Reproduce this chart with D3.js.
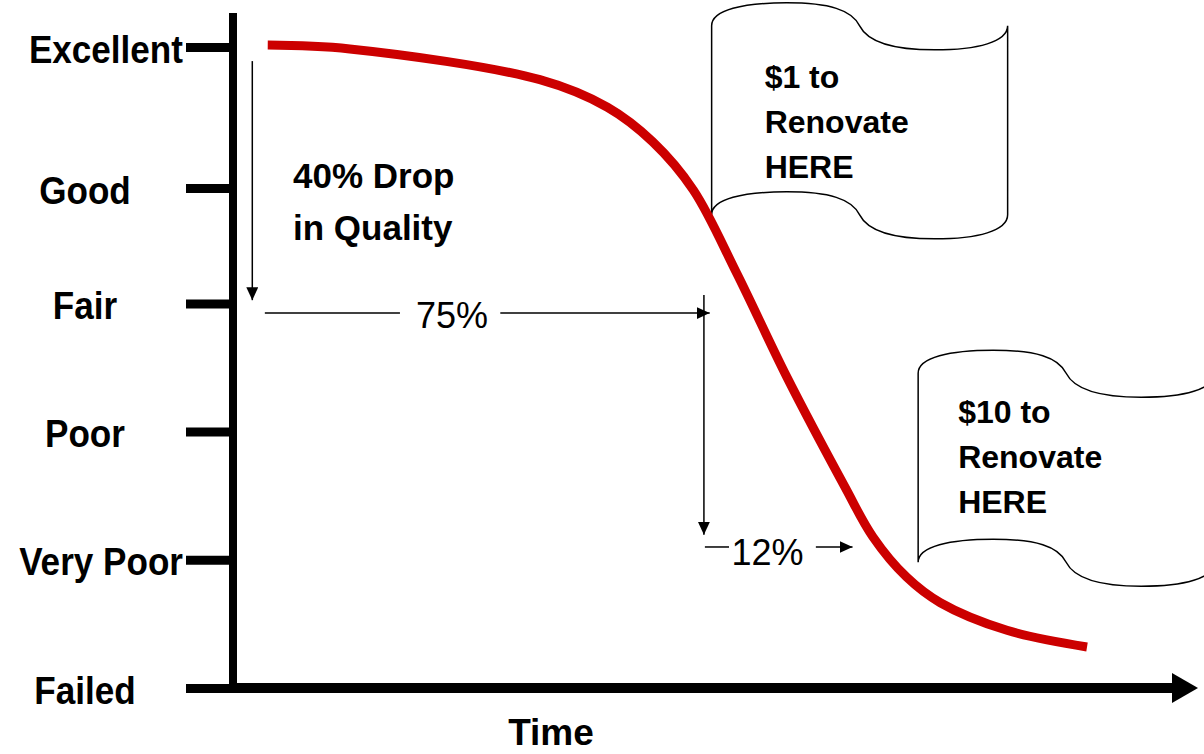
<!DOCTYPE html>
<html>
<head>
<meta charset="utf-8">
<script src="https://cdn.jsdelivr.net/npm/d3@7"></script>
<style>
  body { margin: 0; background: #fff; overflow: hidden; }
  text { font-family: "Liberation Sans", Arial, sans-serif; }
</style>
</head>
<body>
<div class="canvas"></div>
<script>
// condition rating scale (y) and the deterioration curve over time (x)
const qualityLabels = ['Excellent', 'Good', 'Fair', 'Poor', 'Very Poor', 'Failed'];
const qualityValues = [100, 78, 60, 40, 20, 0];

const timeValues = [3.6, 12.1, 31.8, 38.8, 43.5, 47.7, 52.2, 57.4, 63.4, 66.3, 69.8, 73.3, 80.2, 88.5];
const conditionValues = [100.3, 99.7, 94.9, 90.6, 85.2, 77.7, 64.7, 48.5, 31.4, 23.6, 17.3, 13.3, 9.0, 6.4];

const flagTexts = [['$1 to', 'Renovate', 'HERE'], ['$10 to', 'Renovate', 'HERE']];

const width = 1204;
const height = 754;

const svg = d3.select('.canvas')
    .append('svg')
    .attr('width', width)
    .attr('height', height);

const x = d3.scaleLinear().domain([0, 100]).range([233, 1198]);
const y = d3.scaleLinear().domain([0, 100]).range([688, 47]);

// arrow marker
svg.append('defs').append('marker')
    .attr('id', 'head')
    .attr('viewBox', '0 -6 13 12')
    .attr('refX', 13)
    .attr('refY', 0)
    .attr('markerWidth', 13)
    .attr('markerHeight', 12)
    .attr('markerUnits', 'userSpaceOnUse')
    .attr('orient', 'auto')
    .append('path')
    .attr('d', 'M0,-6L13,0L0,6Z')
    .attr('fill', '#000');

// flags (drawn first so the red curve sits on top)
const flagH = 189;
const flagPath = `M0,0 C0,-16 32,-23 75,-23 C118,-23 140,-16 148,0 C156,16 180,24 223,24 C266,24 296,16 296,0
  L296,${flagH} C296,${flagH + 16} 266,${flagH + 24} 223,${flagH + 24} C180,${flagH + 24} 156,${flagH + 16} 148,${flagH}
  C140,${flagH - 16} 118,${flagH - 23} 75,${flagH - 23} C32,${flagH - 23} 0,${flagH - 16} 0,${flagH} Z`;

const flags = [
    { t: 49.6, q: 103.3, tx: 53, ty: 62 },
    { t: 71.0, q: 49.1, tx: 40, ty: 50 }
];

flags.forEach((f, i) => {
    const g = svg.append('g')
        .attr('transform', `translate(${x(f.t)}, ${y(f.q)})`);
    g.append('path')
        .attr('d', flagPath)
        .attr('fill', '#fff')
        .attr('stroke', '#000')
        .attr('stroke-width', 1.5);
    g.selectAll('text')
        .data(flagTexts[i])
        .enter()
        .append('text')
        .attr('x', f.tx)
        .attr('y', (d, j) => f.ty + j * 45)
        .attr('font-size', 32)
        .attr('font-weight', 'bold')
        .text(d => d);
});

// y axis with category ticks
const yAxis = d3.axisLeft(y)
    .tickValues(qualityValues)
    .tickFormat((d, i) => qualityLabels[i])
    .tickSize(47)
    .tickSizeOuter(0)
    .tickPadding(0);

const yAxisGroup = svg.append('g')
    .attr('transform', 'translate(233, 0)')
    .call(yAxis);

yAxisGroup.select('.domain').remove();
yAxisGroup.selectAll('.tick line')
    .attr('stroke', '#000')
    .attr('stroke-width', 9);

yAxisGroup.selectAll('.tick text')
    .attr('font-family', '"Liberation Sans", Arial, sans-serif')
    .attr('font-size', 39)
    .attr('font-weight', 'bold')
    .attr('fill', '#000')
    .attr('dy', 15)
    .each(function () {
        const t = d3.select(this);
        const w = this.getComputedTextLength() * 0.9;
        // long labels butt against the tick, short ones sit centred
        if (w > 140) {
            t.attr('text-anchor', 'end')
                .attr('x', 0)
                .attr('transform', 'translate(-50, 0) scale(0.9, 1)');
        } else {
            t.attr('text-anchor', 'middle')
                .attr('x', 0)
                .attr('transform', 'translate(-148, 0) scale(0.9, 1)');
        }
    });

// axis lines
svg.append('line')
    .attr('x1', x(0)).attr('x2', x(0))
    .attr('y1', 13).attr('y2', 693)
    .attr('stroke', '#000')
    .attr('stroke-width', 8);

svg.append('line')
    .attr('x1', x(0) - 4).attr('x2', 1173)
    .attr('y1', y(0)).attr('y2', y(0))
    .attr('stroke', '#000')
    .attr('stroke-width', 10);

svg.append('path')
    .attr('d', `M1172,${y(0) - 15}L${x(100)},${y(0)}L1172,${y(0) + 15}Z`)
    .attr('fill', '#000');

svg.append('text')
    .attr('x', 551)
    .attr('y', 745)
    .attr('text-anchor', 'middle')
    .attr('font-size', 37)
    .attr('font-weight', 'bold')
    .text('Time');

// deterioration curve
const line = d3.line()
    .x(d => x(d[0]))
    .y(d => y(d[1]))
    .curve(d3.curveCatmullRom.alpha(0.5));

svg.append('path')
    .datum(timeValues.map((t, i) => [t, conditionValues[i]]))
    .attr('d', line)
    .attr('fill', 'none')
    .attr('stroke', '#cc0000')
    .attr('stroke-width', 9);

// annotations
const ann = svg.append('g')
    .attr('stroke', '#000')
    .attr('stroke-width', 1.5);

// 40% drop arrow
ann.append('line')
    .attr('x1', x(2.0)).attr('x2', x(2.0))
    .attr('y1', y(97.8)).attr('y2', y(60.5))
    .attr('marker-end', 'url(#head)');

svg.append('text')
    .attr('x', 293)
    .attr('y', 188)
    .attr('font-size', 35)
    .attr('font-weight', 'bold')
    .selectAll('tspan')
    .data(['40% Drop', 'in Quality'])
    .enter()
    .append('tspan')
    .attr('x', 293)
    .attr('dy', (d, i) => i === 0 ? 0 : 52)
    .text(d => d);

// 75% of time
ann.append('line')
    .attr('x1', x(3.3)).attr('x2', x(17.3))
    .attr('y1', y(58.5)).attr('y2', y(58.5));
ann.append('line')
    .attr('x1', x(27.7)).attr('x2', x(49.4))
    .attr('y1', y(58.5)).attr('y2', y(58.5))
    .attr('marker-end', 'url(#head)');

svg.append('text')
    .attr('x', x(22.7))
    .attr('y', 328)
    .attr('text-anchor', 'middle')
    .attr('font-size', 36)
    .text('75%');

// drop to very poor
ann.append('line')
    .attr('x1', x(48.8)).attr('x2', x(48.8))
    .attr('y1', y(61.3)).attr('y2', y(23.9))
    .attr('marker-end', 'url(#head)');

// 12% of time
ann.append('line')
    .attr('x1', x(48.9)).attr('x2', x(51.4))
    .attr('y1', y(22.0)).attr('y2', y(22.0));
ann.append('line')
    .attr('x1', x(60.4)).attr('x2', x(64.2))
    .attr('y1', y(22.0)).attr('y2', y(22.0))
    .attr('marker-end', 'url(#head)');

svg.append('text')
    .attr('x', x(55.4))
    .attr('y', 565)
    .attr('text-anchor', 'middle')
    .attr('font-size', 36)
    .text('12%');
</script>
</body>
</html>
